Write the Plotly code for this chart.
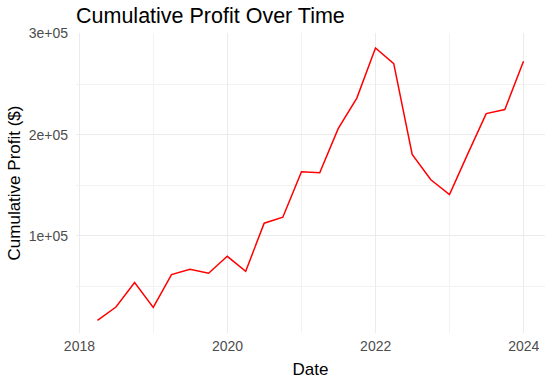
import plotly.graph_objects as go

dates = ["2018-03-31", "2018-06-30", "2018-09-30", "2018-12-31",
         "2019-03-31", "2019-06-30", "2019-09-30", "2019-12-31",
         "2020-03-31", "2020-06-30", "2020-09-30", "2020-12-31",
         "2021-03-31", "2021-06-30", "2021-09-30", "2021-12-31",
         "2022-03-31", "2022-06-30", "2022-09-30", "2022-12-31",
         "2023-03-31", "2023-06-30", "2023-09-30", "2023-12-31"]
profit = [16400, 29700, 53800, 29300,
          61700, 67000, 63000, 79800,
          65000, 112500, 118400, 163400,
          162400, 206000, 236200, 285700,
          270300, 180500, 155400, 140900,
          181000, 220800, 224800, 272600]

x_tickvals = ["2018-01-01", "2020-01-01", "2022-01-01", "2024-01-01"]
x_ticktext = ["2018", "2020", "2022", "2024"]
x_minorvals = ["2019-01-01", "2021-01-01", "2023-01-01"]
y_tickvals = [100000, 200000, 300000]
y_ticktext = ["1e+05", "2e+05", "3e+05"]
y_minorvals = [50000, 150000, 250000]

font = "Liberation Sans, Arial, sans-serif"

fig = go.Figure()
fig.add_trace(go.Scatter(x=dates, y=profit, mode="lines",
                         line=dict(color="#FF0000", width=1.5),
                         showlegend=False))

fig.update_layout(
    width=550, height=381,
    margin=dict(l=76, r=5, t=33, b=48, autoexpand=False),
    plot_bgcolor="white", paper_bgcolor="white",
    font=dict(family=font),
    title=dict(text="Cumulative Profit Over Time", x=0, xref="paper", xanchor="left",
               y=1 - 15 / 381, yref="container", yanchor="middle",
               font=dict(size=21.5, color="black", family=font)),
    xaxis=dict(type="date", range=["2017-12-15", "2024-04-15"],
               automargin=False,
               tickvals=x_tickvals, ticktext=x_ticktext,
               showgrid=True, gridcolor="#EBEBEB", gridwidth=1.1,
               zeroline=False, showline=False, ticks="",
               ticklabelstandoff=3,
               tickfont=dict(size=14, color="#4D4D4D"),
               minor=dict(tickvals=x_minorvals, showgrid=True, gridcolor="#F2F2F2", gridwidth=0.8),
               title=dict(text="Date", font=dict(size=17, color="black"), standoff=10)),
    yaxis=dict(range=[4000, 300500],
               automargin=False,
               tickvals=y_tickvals, ticktext=y_ticktext,
               showgrid=True, gridcolor="#EBEBEB", gridwidth=1.1,
               zeroline=False, showline=False, ticks="",
               ticklabelstandoff=7,
               tickfont=dict(size=14, color="#4D4D4D"),
               minor=dict(tickvals=y_minorvals, showgrid=True, gridcolor="#F2F2F2", gridwidth=0.8),
               title=dict(text="Cumulative Profit ($)", font=dict(size=17, color="black"), standoff=3)),
)

fig.write_html("out.html", config={"displayModeBar": False},
               post_script="document.body.style.margin='0';")
